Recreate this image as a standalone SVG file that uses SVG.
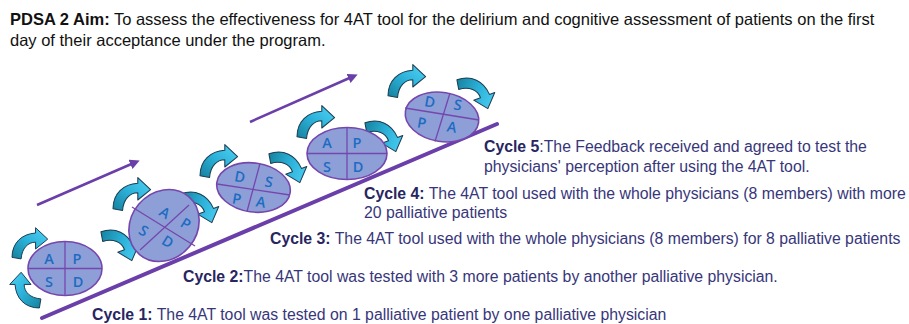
<svg xmlns="http://www.w3.org/2000/svg" xmlns:xlink="http://www.w3.org/1999/xlink" width="909" height="324" viewBox="0 0 909 324">
  <style>
    .title { font-family: "Liberation Sans", Arial, sans-serif; font-size: 16.5px; fill: #111; }
    .cyc { font-family: "Liberation Sans", Arial, sans-serif; font-size: 15.8px; fill: #37367a; }
    .cyc .lbl { font-weight: bold; fill: #27265f; }
    .oval { fill: #8e9fd7; stroke: #7547ad; stroke-width: 1.6; }
    .div { stroke: #7547ad; stroke-width: 1.3; fill: none; }
    .ltr { font-family: "Open Sans", "Liberation Sans", sans-serif; font-size: 14.5px; font-weight: 600; fill: #1d6cc2; text-anchor: middle; }
    .ramp { stroke: #6b3fa9; stroke-width: 4; stroke-linecap: round; fill: none; }
    .trend { stroke: #6b3fa9; stroke-width: 2.5; fill: none; marker-end: url(#head); }
    .bend { fill: url(#teal); stroke: #1c3d52; stroke-width: 1.3; stroke-linejoin: round; }
  </style>
  <defs>
    <linearGradient id="teal" x1="0" y1="1" x2="1" y2="0">
      <stop offset="0" stop-color="#15809c"/>
      <stop offset="0.5" stop-color="#2cb2da"/>
      <stop offset="1" stop-color="#52d2f5"/>
    </linearGradient>
    <marker id="head" viewBox="0 0 10 10" refX="6" refY="5" markerWidth="4" markerHeight="4" orient="auto">
      <path d="M0,0 L10,5 L0,10 Z" fill="#6b3fa9"/>
    </marker>
    <!-- curved cycle arrow: tail bottom-left, head pointing right -->
    <path id="bend" class="bend" d="M0,36 C0,17 13,5 31,4 L31,-3 L47,12 L31,25 L31,16 C21,16 13,24 12,38 Z"/>
  </defs>

  <!-- heading -->
  <g id="aim">
    <text class="title" x="10" y="25"><tspan font-weight="bold">PDSA 2 Aim:</tspan> To assess the effectiveness for 4AT tool for the delirium and cognitive assessment of patients on the first</text>
    <text class="title" x="10" y="46">day of their acceptance under the program.</text>
  </g>

  <!-- ramp and trend arrows -->
  <g id="connectors">
    <line class="ramp" x1="42" y1="318" x2="497" y2="124"/>
    <line class="trend" x1="37" y1="205" x2="136" y2="162"/>
    <line class="trend" x1="250" y1="122" x2="354" y2="76"/>
  </g>

  <!-- curved cycle arrows round each oval -->
  <g id="cycle-arrows">
    <use xlink:href="#bend" transform="translate(12,230) scale(0.76)"/>
    <use xlink:href="#bend" transform="translate(12,308) rotate(-90) scale(0.76)"/>
    <use xlink:href="#bend" transform="translate(128,222) rotate(70) scale(0.8)"/>
    <use xlink:href="#bend" transform="translate(113,180) scale(0.8)"/>
    <use xlink:href="#bend" transform="translate(208,184) rotate(70) scale(0.8)"/>
    <use xlink:href="#bend" transform="translate(200,147) scale(0.8)"/>
    <use xlink:href="#bend" transform="translate(296,144) rotate(70) scale(0.8)"/>
    <use xlink:href="#bend" transform="translate(297,108) scale(0.8)"/>
    <use xlink:href="#bend" transform="translate(392,113) rotate(70) scale(0.8)"/>
    <use xlink:href="#bend" transform="translate(388,67) scale(0.8)"/>
    <use xlink:href="#bend" transform="translate(484,70) rotate(70) scale(0.8)"/>
  </g>

  <g id="pdsa-1">
    <ellipse class="oval" cx="65" cy="268.5" rx="37" ry="27"/>
    <line class="div" x1="65" y1="241.5" x2="65" y2="295.5"/>
    <line class="div" x1="28" y1="268.5" x2="102" y2="268.5"/>
    <text class="ltr" x="49" y="264">A</text>
    <text class="ltr" x="77" y="264">P</text>
    <text class="ltr" x="49" y="287">S</text>
    <text class="ltr" x="78" y="287">D</text>
  </g>

  <g id="pdsa-2">
    <ellipse class="oval" cx="164" cy="225.5" rx="38" ry="33" transform="rotate(-50 164 225.5)"/>
    <line class="div" x1="132" y1="207" x2="195" y2="246"/>
    <line class="div" x1="189" y1="205" x2="140" y2="250"/>
    <text class="ltr" transform="translate(162,217) rotate(32)">A</text>
    <text class="ltr" transform="translate(183,228) rotate(32)">P</text>
    <text class="ltr" transform="translate(141,235) rotate(32)">S</text>
    <text class="ltr" transform="translate(165,246) rotate(32)">D</text>
  </g>

  <g id="pdsa-3">
    <ellipse class="oval" cx="253.5" cy="187.5" rx="37" ry="24.5" transform="rotate(8 253.5 187.5)"/>
    <line class="div" x1="217" y1="184" x2="290" y2="195"/>
    <line class="div" x1="260" y1="163.5" x2="247" y2="211.5"/>
    <text class="ltr" transform="translate(239,182) rotate(10)">D</text>
    <text class="ltr" transform="translate(268,187) rotate(10)">S</text>
    <text class="ltr" transform="translate(236,204) rotate(10)">P</text>
    <text class="ltr" transform="translate(260,207) rotate(10)">A</text>
  </g>

  <g id="pdsa-4">
    <ellipse class="oval" cx="347" cy="153.5" rx="40" ry="26"/>
    <line class="div" x1="347" y1="127.5" x2="347" y2="179.5"/>
    <line class="div" x1="307" y1="153.5" x2="387" y2="153.5"/>
    <text class="ltr" x="327" y="148">A</text>
    <text class="ltr" x="357" y="148">P</text>
    <text class="ltr" x="327" y="172">S</text>
    <text class="ltr" x="358" y="172">D</text>
  </g>

  <g id="pdsa-5">
    <ellipse class="oval" cx="442" cy="117" rx="37" ry="24.5" transform="rotate(9 442 117)"/>
    <line class="div" x1="405" y1="108" x2="479" y2="120"/>
    <line class="div" x1="450" y1="93" x2="435" y2="141.5"/>
    <text class="ltr" transform="translate(429,107) rotate(10)">D</text>
    <text class="ltr" transform="translate(457,110) rotate(10)">S</text>
    <text class="ltr" transform="translate(421,128) rotate(10)">P</text>
    <text class="ltr" transform="translate(451,132) rotate(10)">A</text>
  </g>

  <!-- cycle notes -->
  <g id="cycle-5" class="cyc">
    <text x="484" y="152"><tspan class="lbl">Cycle 5</tspan>:The Feedback received and agreed to test the</text>
    <text x="484" y="172">physicians' perception after using the 4AT tool.</text>
  </g>
  <g id="cycle-4" class="cyc">
    <text x="364" y="199"><tspan class="lbl">Cycle 4:</tspan> The 4AT tool used with the whole physicians (8 members) with more</text>
    <text x="364" y="218">20 palliative patients</text>
  </g>
  <g id="cycle-3" class="cyc">
    <text x="270" y="244"><tspan class="lbl">Cycle 3:</tspan> The 4AT tool used with the whole physicians (8 members) for 8 palliative patients</text>
  </g>
  <g id="cycle-2" class="cyc">
    <text x="183" y="282"><tspan class="lbl">Cycle 2:</tspan>The 4AT tool was tested with 3 more patients by another palliative physician.</text>
  </g>
  <g id="cycle-1" class="cyc">
    <text x="92" y="320"><tspan class="lbl">Cycle 1:</tspan> The 4AT tool was tested on 1 palliative patient by one palliative physician</text>
  </g>
</svg>
